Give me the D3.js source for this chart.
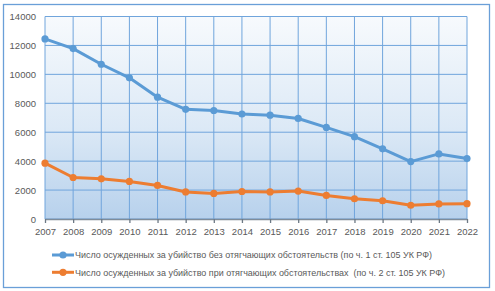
<!DOCTYPE html>
<html>
<head>
<meta charset="utf-8">
<script src="https://cdn.jsdelivr.net/npm/d3@7"></script>
<style>
  body { margin: 0; background: #fff; }
  svg { display: block; font-family: 'Liberation Sans', 'DejaVu Sans', sans-serif; }
</style>
</head>
<body>
<div id="chart"></div>
<script>
// Data
const years = [2007, 2008, 2009, 2010, 2011, 2012, 2013, 2014, 2015, 2016, 2017, 2018, 2019, 2020, 2021, 2022]
const withoutAggr = [12450, 11780, 10700, 9760, 8420, 7580, 7500, 7260, 7180, 6950, 6330, 5690, 4850, 3970, 4500, 4180]
const withAggr = [3860, 2870, 2780, 2600, 2320, 1870, 1770, 1900, 1870, 1930, 1630, 1400, 1260, 950, 1040, 1060]
const yTicks = [0, 2000, 4000, 6000, 8000, 10000, 12000, 14000]
const seriesNames = [
  'Число осужденных за убийство без отягчающих обстоятельств (по ч. 1 ст. 105 УК РФ)',
  'Число осужденных за убийство при отягчающих обстоятельствах  (по ч. 2 ст. 105 УК РФ)'
]

const width = 495
const height = 291
const margin = {left: 45, right: 28, top: 16.5, bottom: 72}
const plotW = width - margin.left - margin.right
const plotH = height - margin.top - margin.bottom

const colours = ['#5b9bd5', '#ed7d31']
const gridColour = '#70a5dc'

const svg = d3.select('#chart')
  .append('svg')
  .attr('width', width)
  .attr('height', height)

// Gradient for plot area
const defs = svg.append('defs')
const grad = defs.append('linearGradient')
  .attr('id', 'plotBg')
  .attr('x1', 0).attr('y1', 0).attr('x2', 0).attr('y2', 1)
grad.append('stop').attr('offset', '0%').attr('stop-color', '#f7fafd')
grad.append('stop').attr('offset', '55%').attr('stop-color', '#dce9f6')
grad.append('stop').attr('offset', '100%').attr('stop-color', '#b7d1ec')

// Outer frame
svg.append('rect')
  .attr('x', 3.5).attr('y', 4.5)
  .attr('width', 486).attr('height', 283)
  .style('fill', '#fff')
  .style('stroke', '#6a9fd8')
  .style('stroke-width', 1.3)

const xScale = d3.scaleLinear().domain([years[0], years[years.length - 1]]).range([0, plotW])
const yScale = d3.scaleLinear().domain([0, 14000]).range([plotH, 0])

const g = svg.append('g')
  .attr('transform', `translate(${margin.left},${margin.top})`)

g.append('rect')
  .attr('width', plotW).attr('height', plotH)
  .style('fill', 'url(#plotBg)')

// Gridlines
g.append('g')
  .selectAll('line.v')
  .data(years)
  .join('line')
  .attr('x1', d => xScale(d)).attr('x2', d => xScale(d))
  .attr('y1', 0).attr('y2', plotH)
  .style('stroke', gridColour)
  .style('stroke-width', 1)

g.append('g')
  .selectAll('line.h')
  .data(yTicks)
  .join('line')
  .attr('x1', 0).attr('x2', plotW)
  .attr('y1', d => yScale(d)).attr('y2', d => yScale(d))
  .style('stroke', gridColour)
  .style('stroke-width', 1)

// Axes
const lAxis = g.append('g')
  .call(d3.axisLeft(yScale).tickValues(yTicks).tickFormat(d3.format('d')).tickSize(0).tickPadding(9))
lAxis.select('.domain').remove()
lAxis.selectAll('text')
  .style('font-size', '9.5px')
  .style('fill', '#595959')

const bAxis = g.append('g')
  .attr('transform', `translate(0,${plotH})`)
  .call(d3.axisBottom(xScale).tickValues(years).tickFormat(d3.format('d')).tickSize(4).tickSizeOuter(0).tickPadding(5))
bAxis.select('.domain').style('stroke', '#7f8c99').style('stroke-width', 1.3)
bAxis.selectAll('.tick line').style('stroke', '#6c7884').style('stroke-width', 1.3)
bAxis.selectAll('text')
  .style('font-size', '9.5px')
  .style('fill', '#595959')

// Lines
const series = [withoutAggr, withAggr]
const linePath = d3.line()
  .x((d, i) => xScale(years[i]))
  .y(d => yScale(d))

series.forEach((s, k) => {
  g.append('path')
    .datum(s)
    .attr('d', linePath)
    .style('fill', 'none')
    .style('stroke', colours[k])
    .style('stroke-width', 3)
    .style('stroke-linejoin', 'round')
  g.append('g')
    .selectAll('circle')
    .data(s)
    .join('circle')
    .attr('cx', (d, i) => xScale(years[i]))
    .attr('cy', d => yScale(d))
    .attr('r', 3.6)
    .style('fill', colours[k])
})

// Legend
const legendY = [255, 272.3]
const legendTextW = [357, 370]
seriesNames.forEach((name, k) => {
  const lg = svg.append('g').attr('transform', `translate(52,${legendY[k]})`)
  lg.append('line')
    .attr('x1', 0).attr('x2', 22)
    .style('stroke', colours[k])
    .style('stroke-width', 3)
  lg.append('circle')
    .attr('cx', 11).attr('r', 3.6)
    .style('fill', colours[k])
  lg.append('text')
    .attr('x', 23)
    .attr('dy', '0.35em')
    .attr('textLength', legendTextW[k])
    .attr('lengthAdjust', 'spacingAndGlyphs')
    .style('font-size', '9.5px')
    .style('fill', '#595959')
    .style('white-space', 'pre')
    .text(name)
})
</script>
</body>
</html>
